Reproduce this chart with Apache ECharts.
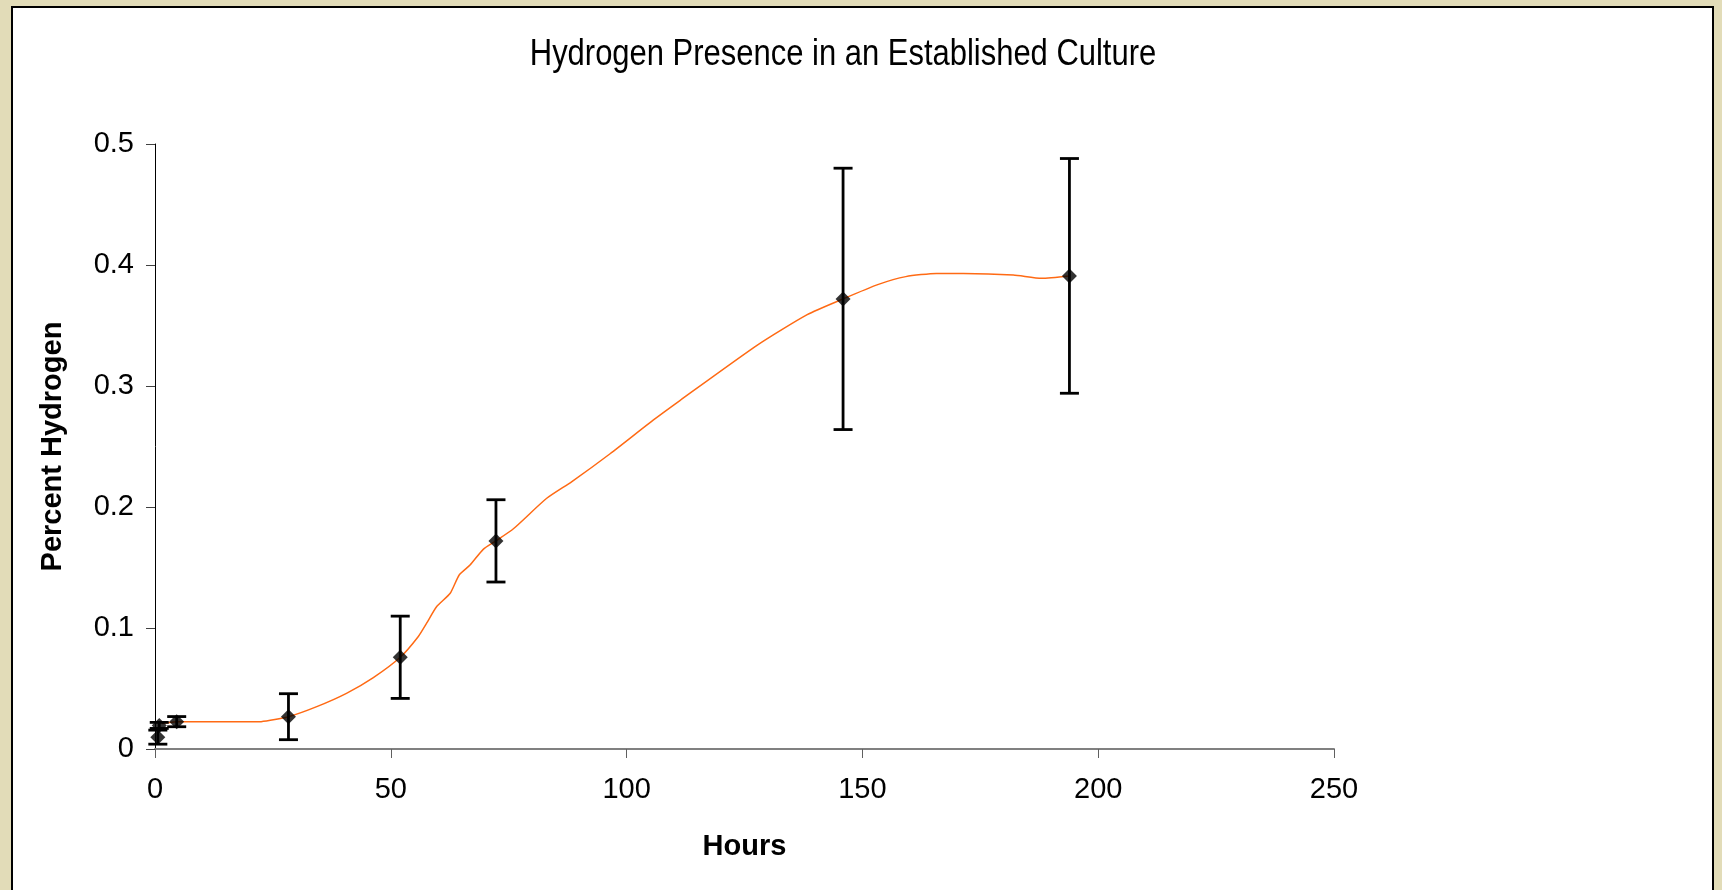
<!DOCTYPE html>
<html>
<head>
<meta charset="utf-8">
<title>Hydrogen Presence in an Established Culture</title>
<script src="https://cdn.jsdelivr.net/npm/echarts@6.0.0/dist/echarts.min.js"></script>
<style>
    html, body {
        margin: 0;
        padding: 0;
        width: 1722px;
        height: 890px;
        overflow: hidden;
        background: #e2dcb8;
    }
    .panel {
        position: absolute;
        left: 11px;
        top: 6px;
        width: 1703px;
        height: 900px;
        box-sizing: border-box;
        border: 2px solid #000;
        background: #fff;
    }
    #echart-h2 {
        position: absolute;
        left: 0;
        top: 0;
        width: 1722px;
        height: 890px;
    }
</style>
</head>
<body>
<div class="panel"></div>
<div id="echart-h2"></div>
<script>
// measured points (hours, percent hydrogen, error)
var hours = [0.6, 0.9, 4.6, 28.3, 52, 72.3, 145.9, 193.9];
var hydrogen = [0.0098, 0.0195, 0.0226, 0.0267, 0.0758, 0.172, 0.372, 0.391];
var errors = [0.0058, 0.0025, 0.0042, 0.019, 0.034, 0.034, 0.108, 0.097];

// orange trend line
var lineHours = [1.5, 4.6, 10, 20, 22.5, 28.3, 34.3, 40.6, 46.3, 52, 55.8, 57.6, 59.7, 62.6, 64.5, 66.8, 69.6, 72.3, 76, 83, 88.4, 96.5, 105.7, 111.3, 127.8, 138.3, 145.9, 153.4, 159.2, 165.7, 171.4, 182, 188, 193.9];
var lineValues = [0.021, 0.0226, 0.0225, 0.0225, 0.0226, 0.0267, 0.035, 0.046, 0.059, 0.0758, 0.0928, 0.104, 0.1176, 0.1287, 0.1438, 0.152, 0.165, 0.172, 0.182, 0.207, 0.221, 0.244, 0.272, 0.288, 0.334, 0.359, 0.372, 0.384, 0.3904, 0.393, 0.393, 0.3917, 0.389, 0.391];

// axis ticks
var xTicks = [0, 50, 100, 150, 200, 250];
var yTicks = [0, 0.1, 0.2, 0.3, 0.4, 0.5];

window.onload = function () {
    var myChart1 = echarts.init(document.getElementById('echart-h2'));
    myChart1.setOption(buildOption());
};

/**
 * error bar -- vertical line with caps
 */
function renderErrorBar(params, api) {
    var x = api.value(0);
    var top = api.coord([x, api.value(2)]);
    var bottom = api.coord([x, api.value(1)]);
    var half = 9.5;
    var style = {stroke: '#000', lineWidth: 2.8};
    return {
        type: 'group',
        children: [{
            type: 'line',
            shape: {x1: top[0], y1: top[1], x2: bottom[0], y2: bottom[1]},
            style: style
        }, {
            type: 'line',
            shape: {x1: top[0] - half, y1: top[1], x2: top[0] + half, y2: top[1]},
            style: style
        }, {
            type: 'line',
            shape: {x1: bottom[0] - half, y1: bottom[1], x2: bottom[0] + half, y2: bottom[1]},
            style: style
        }]
    };
}

function buildOption() {
    var points = [];
    var bars = [];
    var line = [];
    for (var i = 0; i < hours.length; i++) {
        points.push([hours[i], hydrogen[i]]);
        bars.push([hours[i], hydrogen[i] - errors[i], hydrogen[i] + errors[i]]);
    }
    for (var j = 0; j < lineHours.length; j++) {
        line.push([lineHours[j], lineValues[j]]);
    }

    var tickFont = {
        color: '#000',
        fontSize: 29,
        fontFamily: 'Liberation Sans, Arial, sans-serif'
    };
    var nameFont = {
        color: '#000',
        fontSize: 29,
        fontWeight: 'bold',
        fontFamily: 'Liberation Sans, Arial, sans-serif'
    };

    return {
        animation: false,
        // title is drawn a bit condensed, like the original
        graphic: [{
            type: 'text',
            x: 843,
            y: 37,
            scaleX: 0.86,
            style: {
                text: 'Hydrogen Presence in an Established Culture',
                fill: '#000',
                font: 'normal 36px "Liberation Sans", Arial, sans-serif',
                textAlign: 'center',
                textVerticalAlign: 'top'
            }
        }],
        grid: {
            left: 155,
            top: 144,
            width: 1179,
            height: 605
        },
        xAxis: {
            type: 'value',
            min: xTicks[0],
            max: xTicks[xTicks.length - 1],
            interval: xTicks[1] - xTicks[0],
            name: 'Hours',
            nameLocation: 'middle',
            nameGap: 83,
            nameTextStyle: nameFont,
            axisLine: {
                show: true,
                lineStyle: {color: '#808080', width: 2}
            },
            axisTick: {
                show: true,
                length: 9,
                lineStyle: {color: '#606060', width: 1}
            },
            axisLabel: Object.assign({margin: 26}, tickFont),
            splitLine: {show: false}
        },
        yAxis: {
            type: 'value',
            min: yTicks[0],
            max: yTicks[yTicks.length - 1],
            interval: 0.1,
            name: 'Percent Hydrogen',
            nameLocation: 'middle',
            nameGap: 88,
            nameTextStyle: nameFont,
            axisLine: {
                show: true,
                lineStyle: {color: '#000', width: 1}
            },
            axisTick: {
                show: true,
                length: 9,
                lineStyle: {color: '#404040', width: 1}
            },
            axisLabel: Object.assign({margin: 21}, tickFont),
            splitLine: {show: false}
        },
        series: [{
            name: 'trend',
            type: 'line',
            data: line,
            showSymbol: false,
            smooth: 0.2,
            lineStyle: {color: '#ff6a14', width: 1.5},
            z: 2
        }, {
            name: 'error',
            type: 'custom',
            renderItem: renderErrorBar,
            data: bars,
            z: 3
        }, {
            name: 'hydrogen',
            type: 'scatter',
            symbol: 'diamond',
            symbolSize: [15, 15],
            itemStyle: {color: '#000'},
            data: points,
            z: 4
        }]
    };
}
</script>
</body>
</html>
